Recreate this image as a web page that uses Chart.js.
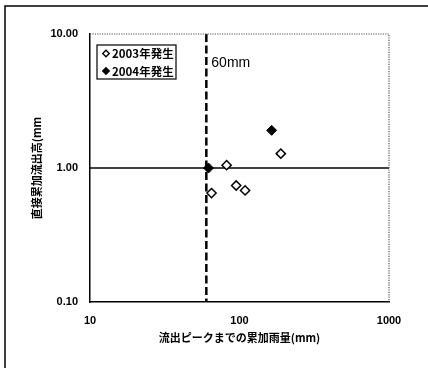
<!DOCTYPE html>
<html>
<head>
<meta charset="utf-8">
<script src="https://cdn.jsdelivr.net/npm/chart.js@4/dist/chart.umd.min.js"></script>
<style>
  html, body { margin: 0; padding: 0; background: #fff; }
  #wrap { width: 428px; height: 368px; position: relative; }
</style>
</head>
<body>
<div id="wrap"><canvas id="c" width="428" height="368"></canvas></div>
<script>
// Cumulative rainfall up to peak runoff (mm) vs. direct cumulative runoff depth (mm)
const rain2003   = [82, 65, 95, 109, 189];
const runoff2003 = [1.05, 0.65, 0.74, 0.68, 1.28];
const rain2004   = [164, 62];
const runoff2004 = [1.91, 1.00];

const seriesNames = ['2003年発生', '2004年発生'];
const xTicks = [10, 100, 1000];
const yTicks = [0.1, 1, 10];

const rainThreshold = 60;   // vertical dashed reference (mm)
const thresholdLabel = '60mm';
const runoffReference = 1;  // horizontal reference line

const xTitle = '流出ピークまでの累加雨量(mm)';
const yTitle = '直接累加流出高(mm';

const JP = '"Noto Sans CJK JP", "Noto Sans", sans-serif';
const NUM = '"Liberation Sans", Arial, sans-serif';

const toPoints = (xs, ys) => xs.map((x, i) => ({ x, y: ys[i] }));

const overlay = {
  id: 'overlay',
  beforeDatasetsDraw(chart) {
    const { ctx, chartArea: a, scales: { x, y } } = chart;
    ctx.save();
    // horizontal reference at y = 1
    const yy = y.getPixelForValue(runoffReference);
    ctx.strokeStyle = '#000';
    ctx.lineWidth = 1.5;
    ctx.beginPath();
    ctx.moveTo(a.left, yy);
    ctx.lineTo(a.right, yy);
    ctx.stroke();
    // vertical dashed threshold
    const xx = x.getPixelForValue(rainThreshold);
    ctx.lineWidth = 2.5;
    ctx.setLineDash([8, 3.5]);
    ctx.beginPath();
    ctx.moveTo(xx, a.top);
    ctx.lineTo(xx, a.bottom);
    ctx.stroke();
    ctx.setLineDash([]);
    // dotted top and right edges of the plot area
    ctx.strokeStyle = '#555';
    ctx.lineWidth = 1.2;
    ctx.setLineDash([1.2, 1.2]);
    ctx.beginPath();
    ctx.moveTo(a.left, a.top);
    ctx.lineTo(a.right, a.top);
    ctx.lineTo(a.right, a.bottom);
    ctx.stroke();
    ctx.setLineDash([]);
    ctx.restore();
  },
  afterDraw(chart) {
    const { ctx, chartArea: a, scales: { x } } = chart;
    ctx.save();
    // outer frame (left and top edges)
    ctx.strokeStyle = '#000';
    ctx.lineWidth = 1.5;
    ctx.beginPath();
    ctx.moveTo(5, 368);
    ctx.lineTo(5, 6);
    ctx.lineTo(428, 6);
    ctx.stroke();

    // threshold label
    ctx.fillStyle = '#000';
    ctx.font = '500 14px ' + NUM;
    ctx.textBaseline = 'middle';
    ctx.textAlign = 'left';
    ctx.fillText(thresholdLabel, x.getPixelForValue(rainThreshold) + 5, 63);

    // legend box
    ctx.lineWidth = 1.2;
    ctx.strokeStyle = '#000';
    ctx.fillStyle = '#fff';
    ctx.fillRect(97, 45, 79, 34);
    ctx.strokeRect(97, 45, 79, 34);
    const ds = chart.data.datasets;
    [53.5, 71].forEach((ly, i) => {
      const d = ds[i];
      ctx.beginPath();
      const r = 3.3, cx = 106;
      ctx.moveTo(cx - r, ly);
      ctx.lineTo(cx, ly - r);
      ctx.lineTo(cx + r, ly);
      ctx.lineTo(cx, ly + r);
      ctx.closePath();
      ctx.fillStyle = d.pointBackgroundColor;
      ctx.fill();
      ctx.lineWidth = 1.3;
      ctx.strokeStyle = '#000';
      ctx.stroke();
      ctx.fillStyle = '#000';
      ctx.font = 'bold 11.5px ' + JP;
      ctx.textAlign = 'left';
      ctx.textBaseline = 'middle';
      ctx.fillText(d.label, 112, ly + 0.5);
    });

    // axis titles
    ctx.fillStyle = '#000';
    ctx.font = 'bold 11px ' + JP;
    ctx.textAlign = 'center';
    ctx.textBaseline = 'middle';
    ctx.fillText(xTitle, (a.left + a.right) / 2, 338);
    ctx.translate(37, 168);
    ctx.rotate(-Math.PI / 2);
    ctx.fillText(yTitle, 0, 0);
    ctx.restore();
  }
};

new Chart(document.getElementById('c'), {
  type: 'scatter',
  data: {
    datasets: [
      {
        label: seriesNames[0],
        data: toPoints(rain2003, runoff2003),
        pointStyle: 'rectRot',
        pointRadius: 4.6,
        pointHoverRadius: 4.6,
        pointBackgroundColor: '#fff',
        pointBorderColor: '#000',
        pointBorderWidth: 1.5
      },
      {
        label: seriesNames[1],
        data: toPoints(rain2004, runoff2004),
        pointStyle: 'rectRot',
        pointRadius: 5,
        pointHoverRadius: 5,
        pointBackgroundColor: '#000',
        pointBorderColor: '#000',
        pointBorderWidth: 1
      }
    ]
  },
  options: {
    responsive: false,
    animation: false,
    events: [],
    layout: { padding: { left: 0, right: 39, top: 34, bottom: 0 } },
    plugins: { legend: { display: false }, tooltip: { enabled: false } },
    scales: {
      x: {
        type: 'logarithmic',
        min: 10,
        max: 1000,
        afterBuildTicks: s => { s.ticks = xTicks.map(v => ({ value: v })); },
        afterFit: s => { s.height = 66; },
        grid: { display: true, drawOnChartArea: false, drawTicks: false },
        border: { color: '#000', width: 1.5 },
        ticks: {
          autoSkip: false,
          maxRotation: 0,
          padding: 12,
          color: '#000',
          font: { family: NUM, size: 11, weight: 'bold' },
          callback: v => String(v)
        }
      },
      y: {
        type: 'logarithmic',
        min: 0.1,
        max: 10,
        afterBuildTicks: s => { s.ticks = yTicks.map(v => ({ value: v })); },
        afterFit: s => { s.width = 90; },
        grid: { display: true, drawOnChartArea: false, drawTicks: false },
        border: { color: '#000', width: 1.5 },
        ticks: {
          autoSkip: false,
          padding: 12,
          color: '#000',
          font: { family: NUM, size: 11, weight: 'bold' },
          callback: v => Number(v).toFixed(2)
        }
      }
    }
  },
  plugins: [overlay]
});
</script>
</body>
</html>
